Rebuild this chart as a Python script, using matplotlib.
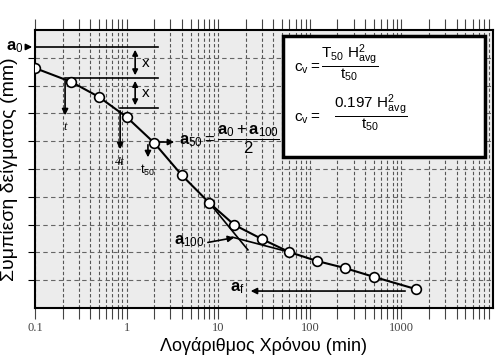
import numpy as np
import matplotlib
matplotlib.use('Agg')
import matplotlib.pyplot as plt
from matplotlib.patches import Rectangle
from matplotlib.ticker import LogLocator, NullFormatter

plt.rcParams['font.family'] = ['Liberation Sans', 'DejaVu Sans']
plt.rcParams['mathtext.fontset'] = 'custom'
plt.rcParams['mathtext.rm'] = 'Liberation Sans'
plt.rcParams['mathtext.it'] = 'Liberation Sans'
plt.rcParams['mathtext.bf'] = 'Liberation Sans:bold'

# time (min) and settlement readings (arbitrary mm, axis inverted)
t_min = [0.1, 0.25, 0.5, 1, 2, 4, 8, 15, 30, 60, 120, 240, 500, 1440]
settle = [1.37, 1.87, 2.41, 3.13, 4.06, 5.22, 6.22, 7.01, 7.52, 7.99, 8.31, 8.56, 8.88, 9.32]

# construction values
a0 = 0.61
t_t, a_t = 0.213, 1.73
t_4t, a_4t = 0.85, 2.81
t50, a50 = 1.71, 4.03
a100_x, a100_y = 16.0, 7.45
steep_x, steep_y = [8, 21.1], [6.22, 7.91]
flat_x, flat_y = [14.2, 60], [7.45, 7.99]
af, af_x0, af_x1 = 9.39, 21.1, 1180

xtick_vals = [0.1, 1, 10, 100, 1000]
xtick_labels = ['0.1', '1', '10', '100', '1000']

fig = plt.figure(figsize=(5.0, 3.59), dpi=100)
ax = fig.add_axes([35/500, 1-308/359, 458/500, 278/359])
ax.set_facecolor('#ececec')
ax.set_xscale('log')
ax.set_xlim(0.1, 10000)
ax.set_ylim(10, 0)

# grid
ax.xaxis.set_minor_locator(LogLocator(base=10, subs=np.arange(2, 10)))
ax.xaxis.set_minor_formatter(NullFormatter())
ax.set_xticks(xtick_vals)
ax.set_xticklabels(xtick_labels, family='Liberation Serif', fontsize=9, color='#444')
ax.set_yticks(np.arange(1, 10))
ax.set_yticklabels([])
ax.grid(True, which='both', axis='x', color='#555', lw=0.8, ls=(0, (3, 2)))
ax.grid(True, which='major', axis='y', color='#666', lw=0.8, ls=(0, (4, 3)))
ax.tick_params(axis='x', which='both', direction='out', length=8, width=0.8, color='#444',
               top=True, pad=2)
ax.tick_params(axis='y', direction='out', length=5, width=0.8)
for s in ax.spines.values():
    s.set_linewidth(1.5)

# consolidation curve
ax.plot(t_min, settle, color='black', lw=1.5, marker='o', ms=7, mfc='white', mec='black', mew=1.2, zorder=5)

# tangent lines
ax.plot(steep_x, steep_y, color='black', lw=1.2)
ax.plot(flat_x, flat_y, color='black', lw=1.2)

arrow = dict(arrowstyle='-|>', color='black', lw=1.2, mutation_scale=9)
darrow = dict(arrowstyle='<|-|>', color='black', lw=1.2, mutation_scale=8)

# a0
ax.plot([0.1, 2.2], [a0, a0], color='black', lw=1.2)
ax.annotate('', xy=(0.1, a0), xytext=(0.078, a0), annotation_clip=False, arrowprops=arrow)
ax.text(0.074, a0, r'$\mathbf{a}_0$', fontsize=12, ha='right', va='center')

# t and 4t
ax.plot([t_t, 2.2], [a_t, a_t], color='black', lw=1.2)
ax.plot([t_4t, 2.2], [a_4t, a_4t], color='black', lw=1.2)
ax.annotate('', xy=(t_t, 3.17), xytext=(t_t, a_t), arrowprops=arrow)
ax.annotate('', xy=(t_4t, 4.39), xytext=(t_4t, a_4t), arrowprops=arrow)
ax.text(t_t, 3.5, 't', family='Liberation Serif', style='italic', fontsize=9, ha='center', va='center', zorder=6)
ax.text(t_4t, 4.75, '4t', family='Liberation Serif', style='italic', fontsize=9, ha='center', va='center', zorder=6)
ax.annotate('', xy=(1.24, a0), xytext=(1.24, a_t), arrowprops=darrow)
ax.annotate('', xy=(1.24, a_t), xytext=(1.24, a_4t), arrowprops=darrow)
ax.text(1.45, (a0 + a_t) / 2, 'x', fontsize=11, ha='left', va='center')
ax.text(1.45, (a_t + a_4t) / 2, 'x', fontsize=11, ha='left', va='center')

# a50
ax.annotate('', xy=(3.55, a50), xytext=(t50, a50), arrowprops=arrow)
ax.annotate('', xy=(t50, 4.68), xytext=(t50, a50), arrowprops=arrow)
ax.text(t50, 5.05, r'$t_{50}$', family='Liberation Serif', style='italic', fontsize=9, ha='center', va='center', zorder=6)
ax.text(3.75, a50 - 0.1, r'$\mathbf{a}_{50} = \dfrac{\mathbf{a}_0 + \mathbf{a}_{100}}{2}$', fontsize=12,
        ha='left', va='center')

# a100
ax.annotate('', xy=(a100_x, a100_y), xytext=(7.2, 7.66), arrowprops=arrow)
ax.text(7.0, 7.6, r'$\mathbf{a}_{100}$', fontsize=12, ha='right', va='center')

# af
ax.annotate('', xy=(af_x0, af), xytext=(af_x1, af), arrowprops=arrow)
ax.text(19.5, 9.3, r'$\mathbf{a}_{f}$', fontsize=12, ha='right', va='center')

# formula box
ax.add_patch(Rectangle((0.541, 0.543), 0.442, 0.435, transform=ax.transAxes,
                       facecolor='white', edgecolor='black', lw=2.5, zorder=6))
ax.text(0.565, 0.88, r'$\mathrm{c}_\mathrm{v} = \dfrac{\mathrm{T}_{50}\ \mathrm{H}^2_{\mathrm{avg}}}{\mathrm{t}_{50}}$',
        transform=ax.transAxes, fontsize=11, ha='left', va='center', zorder=7)
ax.text(0.565, 0.70, r'$\mathrm{c}_\mathrm{v} =\quad \dfrac{0.197\ \mathrm{H}^2_{\mathrm{avg}}}{\mathrm{t}_{50}}$',
        transform=ax.transAxes, fontsize=11, ha='left', va='center', zorder=7)

ax.set_xlabel('Λογάριθμος Χρόνου (min)', fontsize=13, labelpad=2)
ax.set_ylabel('Συμπίεση δείγματος (mm)', fontsize=14, labelpad=4)

fig.savefig('out.png', dpi=100)
